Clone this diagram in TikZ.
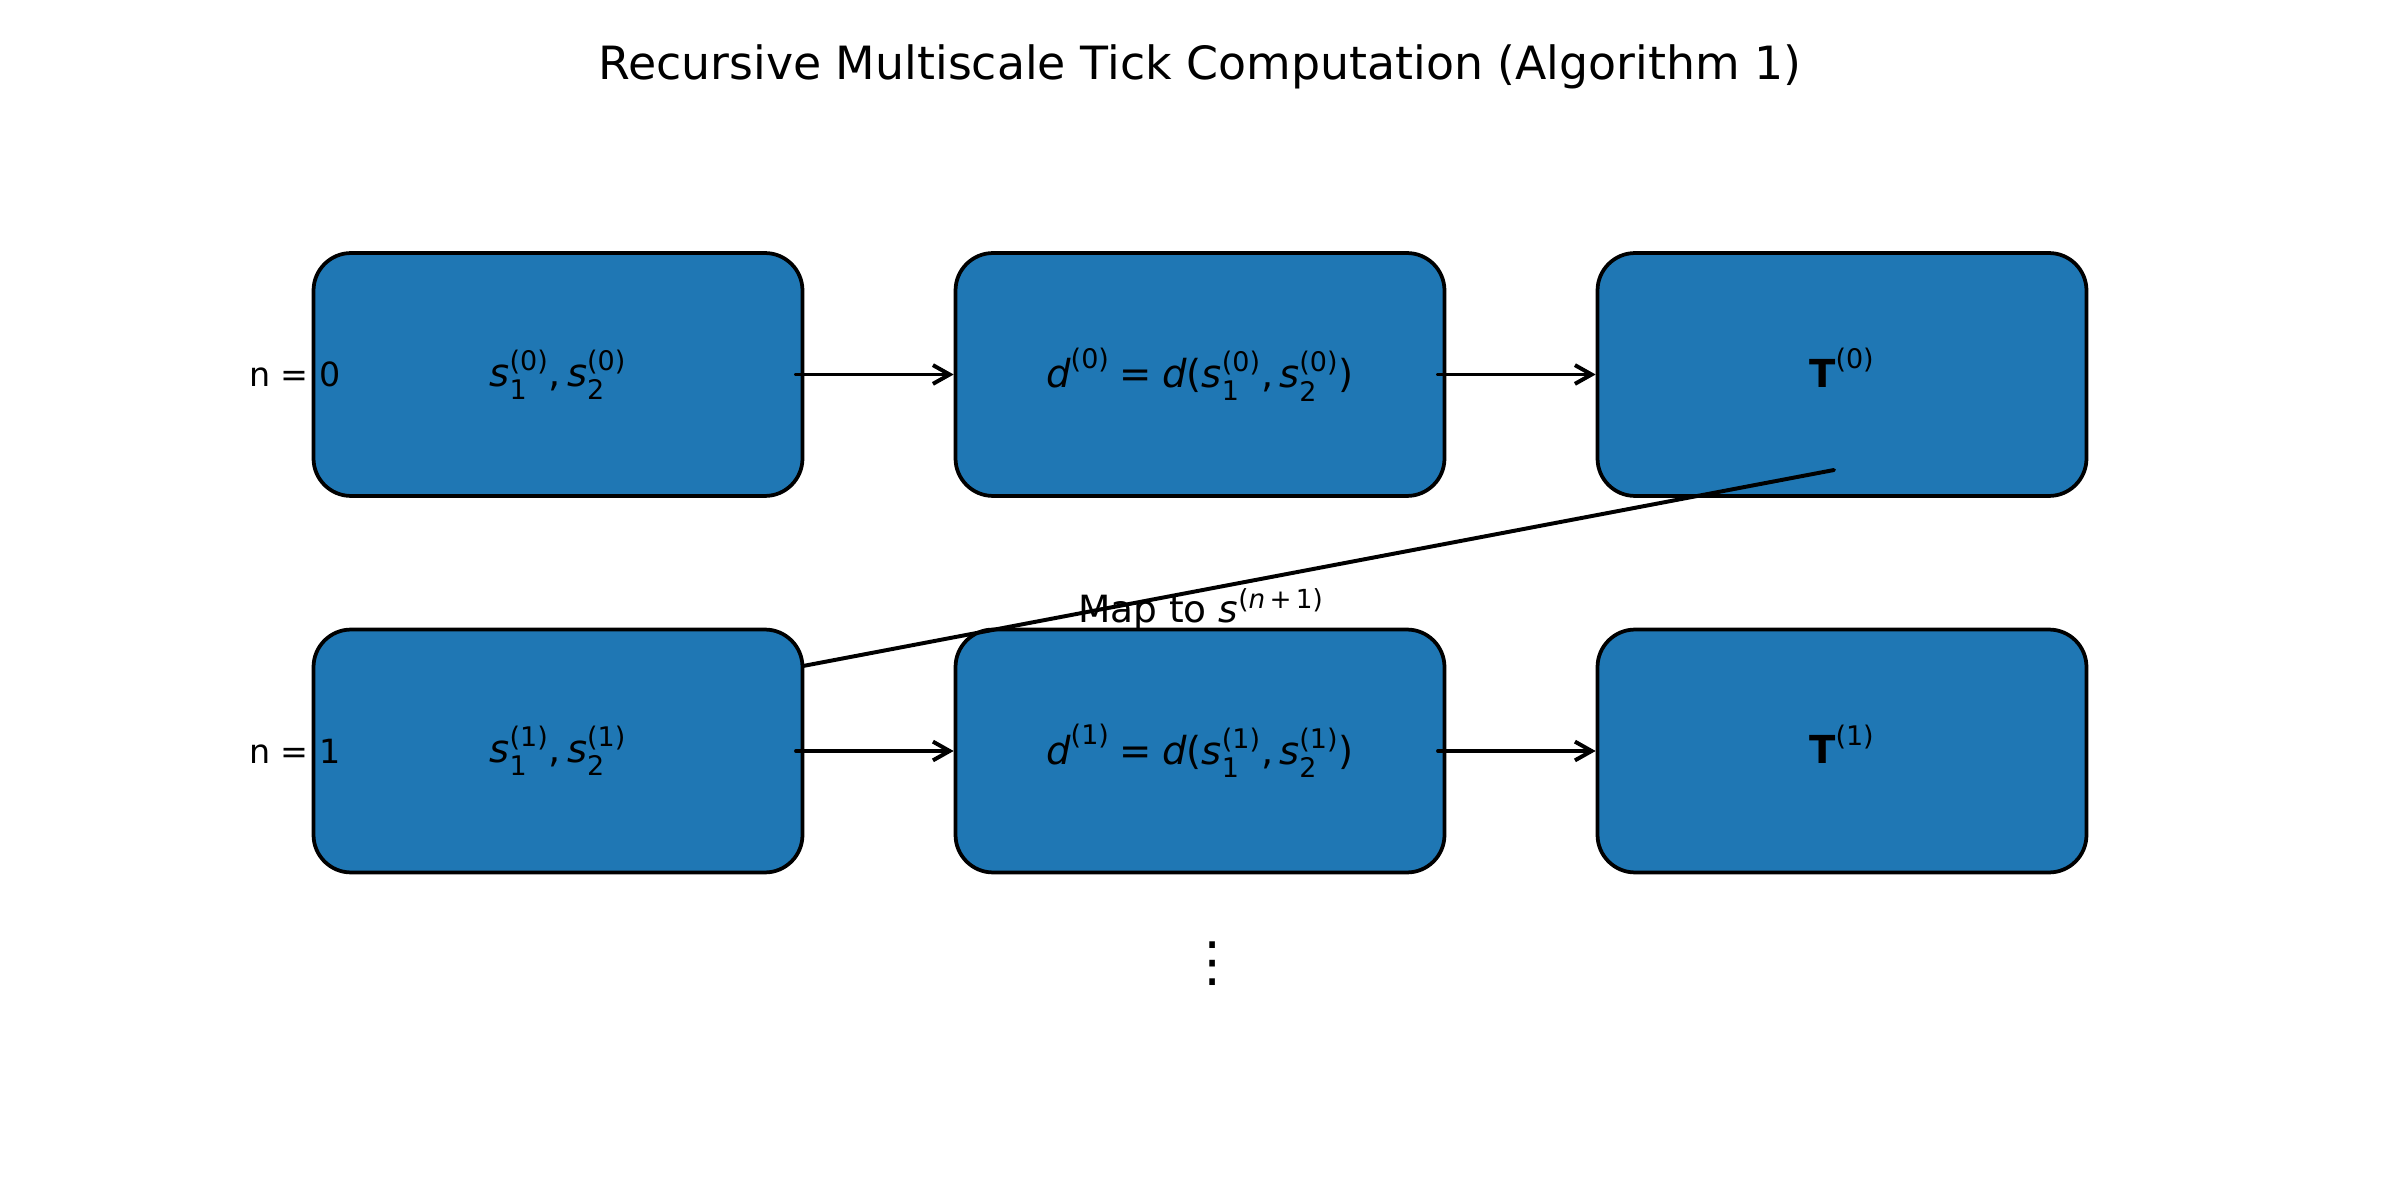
\documentclass[tikz,border=0pt]{standalone}
\usepackage{fontspec}
\usepackage{amsmath}
\setmainfont{DejaVu Sans}
\usetikzlibrary{arrows.meta}
\definecolor{boxblue}{HTML}{1F77B4}
\newcommand{\sv}[2]{\text{\itshape s}^{\text{(#2)}}_{\text{#1}}}
\newcommand{\dv}[1]{\text{\itshape d}^{\text{(#1)}}}
\newcommand{\Tv}[1]{\vphantom{\sv{1}{0}}\text{\bfseries T}^{\text{(#1)}}}
\begin{document}
\begin{tikzpicture}[x=0.48pt,y=-0.48pt,
  box/.style={draw=black, fill=boxblue, line width=1.8pt, rounded corners=18pt,
    minimum width=234.7pt, minimum height=116.6pt, inner sep=0pt,
    font=\fontsize{18.5}{22}\selectfont},
  conn/.style={line width=1.9pt, line cap=round, -{Straight Barb[length=8pt,width=9pt,line width=1.9pt]}},
  maplink/.style={line width=1.9pt, line cap=round},
  rowlabel/.style={font=\fontsize{16}{19}\selectfont},
  maplabel/.style={font=\fontsize{18}{22}\selectfont, anchor=base},
  titlestyle/.style={font=\fontsize{22}{26}\selectfont}
]
\useasboundingbox (0,0) rectangle (2400,1200);
\node[titlestyle] (title) at (1200,67) {Recursive Multiscale Tick Computation (Algorithm 1)};

\node[box] (s0) at (558,374.5) {$\sv{1}{0}\text{,}\,\sv{2}{0}$};
\node[box] (d0) at (1200,374.5) {$\dv{0}\mathrel{\text{=}}\text{\itshape d}\text{(}\sv{1}{0}\text{,}\,\sv{2}{0}\text{)}$};
\node[box] (t0) at (1842,374.5) {$\Tv{0}$};

\node[box] (s1) at (558,751) {$\sv{1}{1}\text{,}\,\sv{2}{1}$};
\node[box] (d1) at (1200,751) {$\dv{1}\mathrel{\text{=}}\text{\itshape d}\text{(}\sv{1}{1}\text{,}\,\sv{2}{1}\text{)}$};
\node[box] (t1) at (1842,751) {$\Tv{1}$};

\node[rowlabel] (n0) at (295,374.5) {n = 0};
\node[rowlabel] (n1) at (295,751) {n = 1};

\draw[conn] ([xshift=-4pt]s0.east) -- (d0.west);
\draw[conn] ([xshift=-4pt]d0.east) -- (t0.west);
\draw[conn] ([xshift=-4pt]s1.east) -- (d1.west);
\draw[conn] ([xshift=-4pt]d1.east) -- (t1.west);

\coordinate (mapA) at (1834,470);
\coordinate (mapB) at (803,666);
\draw[maplink] (mapA) -- (mapB);
\node[maplabel] (maptxt) at (1201,622) {Map to $\text{\itshape s}^{\text{(\itshape n\upshape\,+\,1)}}$};

\node[font=\fontsize{26}{26}\selectfont] (dots) at (1213,964) {⋮};
\end{tikzpicture}
\end{document}
